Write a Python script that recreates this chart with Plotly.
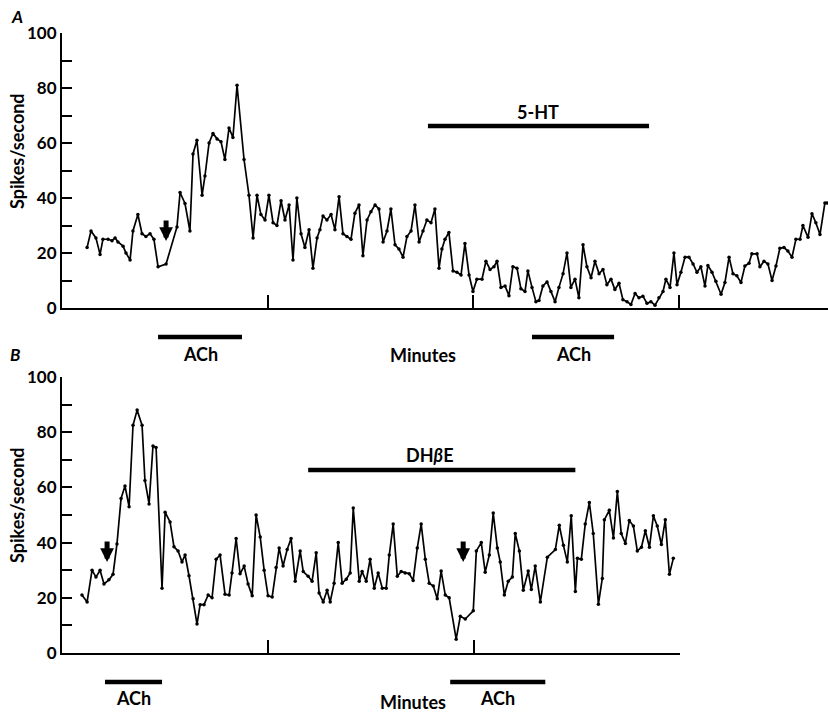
import plotly.graph_objects as go

# ---- Panel A: firing rate (spikes/s) vs time (min); ACh then 5-HT ----
time_a = [
    1.22, 1.41, 1.65, 1.85, 1.99, 2.24, 2.43, 2.58, 2.72, 2.97, 3.11, 3.31, 3.45, 3.69, 3.89,
    4.08, 4.28, 4.47, 4.67, 5.06, 5.59, 5.74, 5.98, 6.22, 6.37, 6.56, 6.81, 6.95, 7.15, 7.34,
    7.54, 7.73, 7.92, 8.12, 8.31, 8.51, 8.85, 9.09, 9.29, 9.48, 9.67, 9.87, 10.06, 10.26, 10.45,
    10.65, 10.84, 11.04, 11.23, 11.42, 11.62, 11.81, 12.01, 12.20, 12.40, 12.54, 12.69, 12.88,
    13.08, 13.27, 13.47, 13.66, 13.85, 14.05, 14.24, 14.44, 14.63, 14.83, 15.02, 15.22, 15.41,
    15.61, 15.80, 15.99, 16.19, 16.38, 16.58, 16.77, 16.97, 17.16, 17.36, 17.55, 17.74, 17.94,
    18.13, 18.33, 18.47, 18.62, 18.81, 19.01, 19.20, 19.40, 19.59, 19.79, 19.98, 20.17, 20.42,
    20.61, 20.81, 21.00, 21.15, 21.34, 21.54, 21.73, 21.92, 22.12, 22.31, 22.51, 22.65, 22.85,
    23.04, 23.19, 23.38, 23.58, 23.77, 23.97, 24.16, 24.36, 24.55, 24.74, 24.94, 25.13, 25.33,
    25.52, 25.72, 25.91, 26.11, 26.30, 26.49, 26.69, 26.88, 27.08, 27.27, 27.47, 27.66, 27.86,
    28.05, 28.24, 28.44, 28.63, 28.83, 29.02, 29.22, 29.36, 29.56, 29.75, 29.90, 30.09, 30.29,
    30.48, 30.68, 30.87, 31.06, 31.26, 31.40, 31.60, 31.79, 32.04, 32.23, 32.43, 32.62, 32.81,
    33.01, 33.20, 33.40, 33.54, 33.79, 33.93, 34.13, 34.32, 34.52, 34.71, 34.90, 35.10, 35.29,
    35.49, 35.68, 35.88, 36.02, 36.27, 36.46, 36.65, 36.85, 37.09, 37.19,
]
rate_a = [
    22, 28, 25.5, 19.5, 25, 25, 24.5, 25.5, 24, 22.5, 20, 17.5, 28, 34, 27,
    26, 27, 25, 15, 16, 29.5, 42, 38, 28, 56, 61, 41, 48, 60, 63.5,
    61.5, 60.5, 54, 65.5, 62, 81, 54, 41, 25.5, 41, 34, 32, 41, 31, 30,
    39, 32, 37.5, 17.5, 40, 27, 22, 28.5, 14.5, 25.5, 28.5, 33.5, 32,
    34, 28.5, 40.5, 27, 26, 25, 34.5, 37.5, 19, 32, 35, 37.5, 36,
    24, 28, 36, 23, 21.5, 18.5, 26, 28, 37.5, 24, 28, 32, 31,
    36, 14.5, 21.5, 25, 27.5, 13.5, 13, 12, 23.5, 12, 6, 10.5, 10.5,
    17, 14, 15, 17, 7.5, 8, 4.5, 15, 14.5, 7, 6, 13.5, 7.5,
    2.3, 2.7, 8, 9.5, 6, 2.3, 7.5, 12.5, 20, 7.5, 10.5, 3.7, 23,
    15, 11, 17, 12.5, 14, 8.5, 10.5, 6.7, 9, 3, 2.3, 1.3, 5.3,
    3.7, 4.3, 1.7, 2.3, 1, 3.7, 6, 10.5, 7.5, 20, 8.5, 13, 18.5,
    18.5, 16, 13, 15, 8, 15.5, 13, 9.7, 5, 9.3, 18.5, 12.5, 11.7,
    9.3, 15.3, 16.3, 19.7, 19.7, 15, 17, 16, 10, 15.3, 21.7, 22, 20.7,
    18.5, 25, 25, 30, 25.7, 34.3, 31, 26.7, 38.2, 38.2,
]

# ---- Panel B: firing rate vs time; ACh, then ACh during DHbetaE ----
time_b = [
    0.97, 1.22, 1.46, 1.65, 1.85, 2.04, 2.28, 2.48, 2.67, 2.87, 3.06, 3.26, 3.45, 3.65, 3.89,
    4.03, 4.23, 4.42, 4.57, 4.86, 5.01, 5.25, 5.44, 5.64, 5.83, 5.98, 6.17, 6.37, 6.56, 6.71,
    6.90, 7.10, 7.29, 7.49, 7.68, 7.92, 8.12, 8.26, 8.46, 8.65, 8.85, 9.04, 9.24, 9.43, 9.63,
    9.82, 10.01, 10.21, 10.40, 10.55, 10.74, 10.94, 11.13, 11.33, 11.57, 11.72, 11.96, 12.15,
    12.35, 12.49, 12.69, 12.88, 13.03, 13.22, 13.42, 13.61, 13.81, 14.00, 14.15, 14.44, 14.58,
    14.78, 14.97, 15.17, 15.36, 15.56, 15.75, 15.90, 16.09, 16.29, 16.48, 16.67, 16.87, 17.06,
    17.26, 17.45, 17.65, 17.84, 18.04, 18.23, 18.42, 18.62, 18.81, 19.15, 19.35, 19.59, 19.98,
    20.13, 20.37, 20.56, 20.76, 20.95, 21.15, 21.29, 21.49, 21.68, 21.88, 22.02, 22.22, 22.41,
    22.65, 22.80, 22.99, 23.24, 23.58, 23.97, 24.16, 24.36, 24.55, 24.74, 24.94, 25.04, 25.23,
    25.42, 25.62, 25.81, 26.06, 26.25, 26.35, 26.59, 26.79, 26.98, 27.17, 27.37, 27.56, 27.76,
    27.95, 28.15, 28.34, 28.54, 28.73, 28.92, 29.12, 29.31, 29.51, 29.70,
]
rate_b = [
    21, 18.5, 30, 27.5, 30, 25, 26.5, 28.5, 39.5, 56, 60.5, 53, 82.5, 88, 82.5,
    62.5, 54, 75, 74.5, 23.5, 51, 47.5, 38.5, 37, 33, 35.5, 28, 19.7, 10.5, 17.5,
    17.5, 21, 20, 34, 35.5, 21.3, 21, 29, 41.5, 28.7, 31.5, 25, 20.7, 50, 42,
    30, 20.7, 20.3, 31, 38, 31.5, 37.5, 41.5, 26, 37, 29.5, 27.8, 26,
    36.3, 21.7, 18.5, 22.7, 18.5, 25.3, 40, 25.3, 26.7, 29, 52.5, 26, 29.5,
    26, 34, 23.5, 29, 23.5, 23.5, 35.5, 46.7, 27.8, 29.5, 29, 28.7, 26.3,
    38, 46.7, 34, 25.3, 24.3, 19.7, 29.7, 21, 20, 5, 13.3, 12.3, 15.3,
    37, 40, 29.3, 35.5, 50.7, 38, 33, 21, 26, 27.5, 43.3, 37, 22.7,
    29.7, 23, 31.5, 18.5, 34.7, 37.5, 46.3, 39, 33, 49.7, 22.3, 34.3, 34,
    46.7, 54.5, 43.3, 17.7, 27, 48.3, 51.7, 41.7, 58.5, 43.3, 39.7, 48, 46,
    37, 38.3, 44.3, 38.3, 49.7, 46, 39.3, 48.3, 28.5, 34.3,
]

# drug application periods (min)
ach_a = [(4.67, 8.75), (22.85, 26.84)]
serotonin_a = (17.79, 28.54)
ach_b = [(2.09, 4.86), (18.86, 23.48)]
dhbe_b = (11.96, 24.94)
dhbe_label_x = 17.84
arrows_a = [5.06]
arrows_b = [2.19, 19.49]

y_ticks = list(range(0, 101, 10))
y_ticktext = [str(v) if v % 20 == 0 else "" for v in y_ticks]

FONT = "Lato"
INK = "black"

fig = go.Figure()
line_style = dict(color=INK, width=1.7)
marker_style = dict(color=INK, size=3.5)
fig.add_trace(go.Scatter(x=time_a, y=rate_a, mode="lines+markers", line=line_style,
                         marker=marker_style, xaxis="x", yaxis="y", showlegend=False,
                         cliponaxis=False))
fig.add_trace(go.Scatter(x=time_b, y=rate_b, mode="lines+markers", line=line_style,
                         marker=marker_style, xaxis="x2", yaxis="y2", showlegend=False,
                         cliponaxis=False))

W, H = 828, 715
x0_px = 62


def px_x(px):
    return px / W


def px_y(py):
    return 1 - py / H


yaxis_common = dict(
    range=[0, 100], tickvals=y_ticks, ticktext=y_ticktext, ticks="inside", ticklen=10,
    tickwidth=1.5, tickcolor=INK, showline=True, linecolor=INK, linewidth=2,
    showgrid=False, zeroline=False, automargin=False,
    tickfont=dict(family=FONT, size=17, color=INK, weight="bold"),
)
xaxis_common = dict(
    tickvals=[10, 20, 30], showticklabels=False, ticks="inside", ticklen=13, tickwidth=1.5,
    tickcolor=INK, showline=True, linecolor=INK, linewidth=2, showgrid=False,
    zeroline=False, automargin=False,
)

fig.update_layout(
    width=W, height=H, margin=dict(l=0, r=0, t=0, b=0),
    paper_bgcolor="white", plot_bgcolor="white",
    xaxis=dict(domain=[px_x(x0_px), 1.0], range=[0, 37.24], anchor="y", **xaxis_common),
    yaxis=dict(domain=[px_y(308), px_y(33)], anchor="x", **yaxis_common),
    xaxis2=dict(domain=[px_x(x0_px), px_x(679.5)], range=[0, 30], anchor="y2", **xaxis_common),
    yaxis2=dict(domain=[px_y(653), px_y(377)], anchor="x2", **yaxis_common),
)

text_font = dict(family=FONT, size=18, color=INK, weight="bold")
annotations = []
shapes = []


def bar(xref, span, py):
    shapes.append(dict(type="line", xref=xref, yref="paper", x0=span[0], x1=span[1],
                       y0=px_y(py), y1=px_y(py), line=dict(color=INK, width=4.5)))


def label(xref, x, py, text, font=text_font):
    annotations.append(dict(xref=xref, yref="paper", x=x, y=px_y(py), text=text,
                            showarrow=False, font=font, xanchor="center", yanchor="middle"))


# Panel A decorations
for span in ach_a:
    bar("x", span, 337)
    label("x", (span[0] + span[1]) / 2, 354, "ACh")
bar("x", serotonin_a, 126)
label("x", (serotonin_a[0] + serotonin_a[1]) / 2, 112, "5-HT")
label("paper", px_x(423), 355, "Minutes")

# Panel B decorations
for span in ach_b:
    bar("x2", span, 682)
    label("x2", (span[0] + span[1]) / 2, 698, "ACh")
bar("x2", dhbe_b, 470)
label("x2", dhbe_label_x, 455, "DH<i>β</i>E")
label("paper", px_x(413), 702, "Minutes")

# panel letters and y titles
letter_font = dict(family=FONT, size=17, color=INK, weight="bold", style="italic")
label("paper", px_x(17), 16, "A", letter_font)
label("paper", px_x(15), 354, "B", letter_font)
for py in (151, 505):
    annotations.append(dict(xref="paper", yref="paper", x=px_x(17), y=px_y(py),
                            text="Spikes/second", textangle=-90, showarrow=False,
                            font=dict(family=FONT, size=18, color=INK, weight="bold"),
                            xanchor="center", yanchor="middle"))

# ACh application arrows (short, block-style, pointing down)
arrow_specs = [("x", arrows_a[0], 241)] + [("x2", t, 562) for t in arrows_b]
for xr, t, tip_py in arrow_specs:
    annotations.append(dict(xref=xr, yref="paper", x=t, y=px_y(tip_py), ax=0, ay=-22,
                            showarrow=True, arrowhead=2, arrowsize=0.55, arrowwidth=5,
                            arrowcolor=INK, text=""))

fig.update_layout(annotations=annotations, shapes=shapes)
fig.write_html("out.html")
